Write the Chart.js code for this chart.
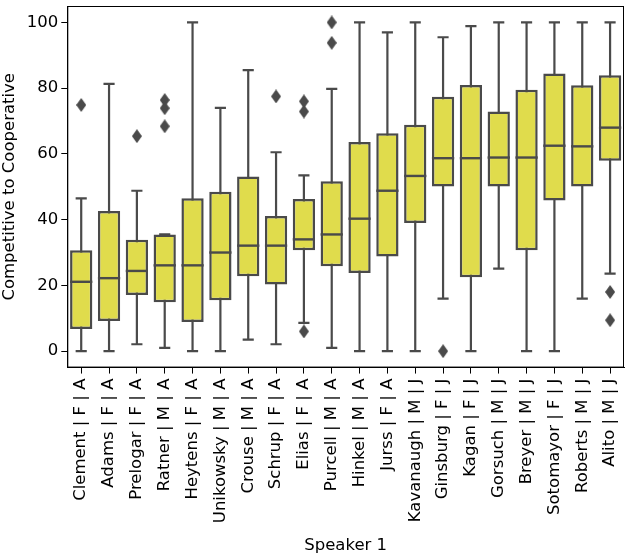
<!DOCTYPE html>
<html>
<head>
<meta charset="utf-8">
<script src="https://cdn.jsdelivr.net/npm/chart.js@4"></script>
<style>
  html, body { margin: 0; padding: 0; background: #fff; }
  #wrap { width: 630px; height: 556px; }
</style>
</head>
<body>
<div id="wrap"><canvas id="boxChart"></canvas></div>
<script>
// speakers on the x axis
const speakers = [
  "Clement | F | A", "Adams | F | A", "Prelogar | F | A", "Ratner | M | A",
  "Heytens | F | A", "Unikowsky | M | A", "Crouse | M | A", "Schrup | F | A",
  "Elias | F | A", "Purcell | M | A", "Hinkel | M | A", "Jurss | F | A",
  "Kavanaugh | M | J", "Ginsburg | F | J", "Kagan | F | J", "Gorsuch | M | J",
  "Breyer | M | J", "Sotomayor | F | J", "Roberts | M | J", "Alito | M | J"
];

// box stats
const whiskerLow = [0, 0, 2.1, 1.0, 0, 0, 3.5, 2.1, 8.6, 1.0, 0, 0, 0, 16.0, 0, 25.1, 0, 0, 16.0, 23.6];
const q1 =         [6.7, 9.2, 17.1, 14.9, 8.9, 15.5, 22.8, 20.3, 30.7, 25.8, 23.8, 28.8, 39.0, 50.1, 22.5, 50.1, 30.7, 45.8, 50.1, 57.9];
const median =     [21.1, 22.2, 24.4, 26.1, 26.1, 30.0, 32.1, 32.1, 34.0, 35.5, 40.3, 48.8, 53.3, 58.7, 58.7, 58.9, 58.9, 62.5, 62.3, 68.0];
const q3 =         [30.7, 42.6, 33.9, 35.5, 46.5, 48.5, 53.1, 41.1, 46.3, 51.7, 63.6, 66.3, 68.9, 77.4, 81.0, 72.9, 79.5, 84.5, 80.9, 83.9];
const whiskerHigh = [46.5, 81.3, 48.8, 35.5, 100, 74.0, 85.5, 60.5, 53.5, 79.8, 100, 97.0, 100, 95.5, 98.9, 100, 100, 100, 100, 100];
const outliers = [
  [74.9], [], [65.4], [76.4, 73.9, 68.4], [], [], [], [77.5], [76.0, 72.9, 6.0],
  [100, 93.8], [], [], [], [0], [], [], [], [], [], [18.0, 9.4]
];
const yTicks = [0, 20, 40, 60, 80, 100];

const boxFill = "#e0dc4c";
const edge = "#4a4a4a";
const fontFamily = "'DejaVu Sans', sans-serif";
const fontSize = 16.5;

// thin diamond marker like matplotlib 'd'
const diamond = document.createElement("canvas");
diamond.width = 10;
diamond.height = 14;
(function () {
  const c = diamond.getContext("2d");
  c.fillStyle = edge;
  c.beginPath();
  c.moveTo(5, 0);
  c.lineTo(10, 7);
  c.lineTo(5, 14);
  c.lineTo(0, 7);
  c.closePath();
  c.fill();
})();

const outlierPoints = [];
outliers.forEach(function (vals, i) {
  vals.forEach(function (v) {
    outlierPoints.push({ x: speakers[i], y: v });
  });
});

const whiskerPlugin = {
  id: "whiskers",
  beforeDatasetsDraw(chart) {
    const ctx = chart.ctx;
    const x = chart.scales.x, y = chart.scales.y;
    const bars = chart.getDatasetMeta(0).data;
    ctx.save();
    ctx.strokeStyle = edge;
    ctx.lineWidth = 2.2;
    ctx.lineCap = "butt";
    speakers.forEach(function (s, i) {
      const cx = x.getPixelForValue(i);
      const half = bars[i].width / 4;
      const yl = y.getPixelForValue(whiskerLow[i]);
      const yh = y.getPixelForValue(whiskerHigh[i]);
      ctx.beginPath();
      ctx.moveTo(cx, yl);
      ctx.lineTo(cx, yh);
      ctx.moveTo(cx - half, yl);
      ctx.lineTo(cx + half, yl);
      ctx.moveTo(cx - half, yh);
      ctx.lineTo(cx + half, yh);
      ctx.stroke();
    });
    ctx.restore();
  },
  afterDatasetsDraw(chart) {
    const ctx = chart.ctx;
    const x = chart.scales.x, y = chart.scales.y;
    const bars = chart.getDatasetMeta(0).data;
    const area = chart.chartArea;
    ctx.save();
    ctx.strokeStyle = edge;
    ctx.lineWidth = 2.4;
    speakers.forEach(function (s, i) {
      const cx = x.getPixelForValue(i);
      const half = bars[i].width / 2;
      const ym = y.getPixelForValue(median[i]);
      ctx.beginPath();
      ctx.moveTo(cx - half, ym);
      ctx.lineTo(cx + half, ym);
      ctx.stroke();
    });
    // axes frame
    ctx.strokeStyle = "#000";
    ctx.lineWidth = 1;
    ctx.strokeRect(area.left + 0.5, area.top + 0.5, area.right - area.left - 1, area.bottom - area.top - 1);
    ctx.restore();
  }
};

new Chart(document.getElementById("boxChart").getContext("2d"), {
  type: "bar",
  data: {
    labels: speakers,
    datasets: [
      {
        label: "box",
        data: speakers.map(function (s, i) { return [q1[i], q3[i]]; }),
        backgroundColor: boxFill,
        borderColor: edge,
        borderWidth: 2.5,
        borderSkipped: false,
        barPercentage: 0.8,
        categoryPercentage: 1.0
      },
      {
        type: "line",
        label: "outliers",
        data: outlierPoints,
        showLine: false,
        pointStyle: diamond,
        pointRadius: 5,
        pointHoverRadius: 5,
        backgroundColor: edge,
        borderColor: edge
      }
    ]
  },
  options: {
    responsive: true,
    maintainAspectRatio: false,
    animation: false,
    layout: { padding: { top: -4, right: -3, left: 0, bottom: 0 } },
    plugins: {
      legend: { display: false },
      tooltip: { enabled: false }
    },
    scales: {
      x: {
        type: "category",
        afterFit: function (axis) {
          axis.paddingLeft = 0;
          axis.paddingRight = 0;
        },
        grid: {
          offset: false,
          drawOnChartArea: false,
          drawTicks: true,
          tickLength: 6,
          tickColor: "#000"
        },
        border: { color: "#000" },
        ticks: {
          color: "#000",
          font: { family: fontFamily, size: fontSize },
          minRotation: 90,
          maxRotation: 90,
          autoSkip: false,
          padding: 5
        },
        title: {
          display: true,
          text: "Speaker 1",
          color: "#000",
          font: { family: fontFamily, size: fontSize },
          padding: { top: 8, bottom: 0 }
        }
      },
      y: {
        min: -5,
        max: 105,
        afterBuildTicks: function (axis) {
          axis.ticks = yTicks.map(function (v) { return { value: v }; });
        },
        afterFit: function (axis) {
          axis.paddingTop = 0;
          axis.paddingBottom = 0;
        },
        grid: {
          drawOnChartArea: false,
          drawTicks: true,
          tickLength: 6,
          tickColor: "#000"
        },
        border: { color: "#000" },
        ticks: {
          color: "#000",
          font: { family: fontFamily, size: fontSize },
          padding: 3
        },
        title: {
          display: true,
          text: "Competitive to Cooperative",
          color: "#000",
          font: { family: fontFamily, size: fontSize },
          padding: { top: 0, bottom: 4 }
        }
      }
    }
  },
  plugins: [whiskerPlugin]
});
</script>
</body>
</html>
